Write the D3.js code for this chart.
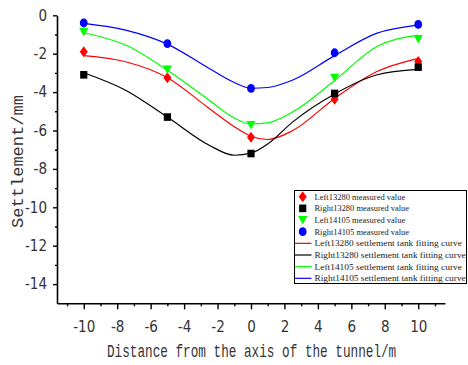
<!DOCTYPE html>
<html>
<head>
<meta http-equiv='Content-Type' content='text/html;charset=utf-8'/>
<title>Settlement</title>
<script src='https://cdn.jsdelivr.net/npm/d3@7/dist/d3.min.js'></script>
<style>
body { margin: 0; background: #fff; }
text { font-family: 'Liberation Sans Narrow', 'DejaVu Sans Condensed', sans-serif; }
</style>
</head>
<body>
<script>
'use strict'
// measured points
const xPoints = [-10, -5, 0, 5, 10]
const left13280 = [-1.9, -3.25, -6.35, -4.37, -2.4]
const right13280 = [-3.1, -5.3, -7.2, -4.07, -2.7]
const left14105 = [-0.87, -2.82, -5.72, -3.25, -1.24]
const right14105 = [-0.4, -1.48, -3.81, -1.95, -0.47]

// fitting curves
const xCurve = [-10, -7.5, -5, -2.5, -1, 0, 1, 2.5, 5, 7.5, 10]
const left13280Fit = [-2.1, -2.42, -3.25, -4.85, -5.8, -6.3, -6.47, -6.0, -4.33, -2.94, -2.24]
const right13280Fit = [-2.99, -3.9, -5.3, -6.77, -7.29, -7.18, -6.7, -5.55, -4.1, -3.11, -2.82]
const left14105Fit = [-0.91, -1.55, -2.86, -4.42, -5.35, -5.66, -5.6, -5.03, -3.4, -1.64, -1.03]
const right14105Fit = [-0.42, -0.77, -1.5, -2.77, -3.5, -3.8, -3.76, -3.37, -2.1, -0.94, -0.51]

const xTicks = [-10, -8, -6, -4, -2, 0, 2, 4, 6, 8, 10]
const yTicks = [0, -2, -4, -6, -8, -10, -12, -14]

const legendItems = [
	{name: 'Left13280 measured value', kind: 'diamond', color: '#ff0000'},
	{name: 'Right13280 measured value', kind: 'square', color: '#000000'},
	{name: 'Left14105 measured value', kind: 'triangle', color: '#00ff00'},
	{name: 'Right14105 measured value', kind: 'circle', color: '#0000ff'},
	{name: 'Left13280 settlement tank fitting curve', kind: 'line', color: '#ff0000'},
	{name: 'Right13280 settlement tank fitting curve', kind: 'line', color: '#000000'},
	{name: 'Left14105 settlement tank fitting curve', kind: 'line', color: '#00ff00'},
	{name: 'Right14105 settlement tank fitting curve', kind: 'line', color: '#0000ff'}
]

const width = 468
const height = 365

const svg = d3.select('body').append('svg')
	.attr('width', width)
	.attr('height', height)

const x = d3.scaleLinear().domain([-11.6, 11.6]).range([57, 445])
const y = d3.scaleLinear().domain([-15, 0]).range([303.3, 15.3])

// axes
const xAxis = svg.append('g')
	.attr('transform', 'translate(0,' + y(-15) + ')')
	.call(d3.axisBottom(x).tickValues(xTicks).tickSize(6).tickSizeOuter(0).tickFormat(d => d))
xAxis.select('.domain').attr('stroke-width', 1.6)
xAxis.selectAll('.tick line').attr('stroke-width', 1.4)
xAxis.selectAll('.tick text')
	.attr('y', 29).attr('dy', 0)
	.style('font-size', '15px').attr('fill', '#333')

svg.append('g')
	.attr('transform', 'translate(0,' + y(-15) + ')')
	.call(d3.axisBottom(x).tickValues(d3.range(-11, 12, 2)).tickSize(3).tickFormat(''))
	.call(g => g.select('.domain').remove())
	.selectAll('.tick line').attr('stroke-width', 1.4)

const yAxis = svg.append('g')
	.attr('transform', 'translate(' + x(-11.6) + ',0)')
	.call(d3.axisLeft(y).tickValues(yTicks).tickSize(4).tickSizeOuter(0).tickPadding(6).tickFormat(d => d))
yAxis.select('.domain').attr('stroke-width', 1.6)
yAxis.selectAll('.tick line').attr('stroke-width', 1.4)
yAxis.selectAll('.tick text').style('font-size', '15px').attr('fill', '#333')

svg.append('g')
	.attr('transform', 'translate(' + x(-11.6) + ',0)')
	.call(d3.axisLeft(y).tickValues(d3.range(-1, -15, -2)).tickSize(2).tickFormat(''))
	.call(g => g.select('.domain').remove())
	.selectAll('.tick line').attr('stroke-width', 1.4)

// axis titles (narrow mono font stretched upward to look condensed)
svg.append('text')
	.attr('transform', 'translate(107,357) scale(1,1.45)')
	.style('font-family', "'Liberation Mono', monospace")
	.style('font-size', '12.7px').attr('fill', '#333')
	.text('Distance from the axis of the tunnel/m')

svg.append('text')
	.attr('transform', 'translate(23,228) rotate(-90)')
	.attr('textLength', 133).attr('lengthAdjust', 'spacingAndGlyphs')
	.style('font-family', "'Liberation Mono', monospace")
	.style('font-size', '17px').attr('fill', '#333')
	.text('Settlement/mm')

// curves
const line = d3.line()
	.x(d => x(d[0]))
	.y(d => y(d[1]))
	.curve(d3.curveMonotoneX)

const fits = [
	[left13280Fit, '#ff0000'],
	[right13280Fit, '#000000'],
	[left14105Fit, '#00ff00'],
	[right14105Fit, '#0000ff']
]
fits.forEach(function(f) {
	svg.append('path')
		.datum(xCurve.map((v, i) => [v, f[0][i]]))
		.attr('d', line)
		.attr('fill', 'none')
		.attr('stroke', f[1])
		.attr('stroke-width', 1.2)
})

// markers
const symbols = {
	diamond: 'M0,-5.5L4,0L0,5.5L-4,0Z',
	square: 'M-3.6,-3.8H3.6V3.8H-3.6Z',
	triangle: 'M-4.6,-4L4.6,-4L0,4.5Z',
	circle: null
}

function marker(g, kind, color, cx, cy)
{
	if (kind == 'circle') {
		g.append('ellipse')
			.attr('cx', cx).attr('cy', cy)
			.attr('rx', 3.9).attr('ry', 4.4)
			.attr('fill', color)
	}
	else {
		g.append('path')
			.attr('d', symbols[kind])
			.attr('transform', 'translate(' + cx + ',' + cy + ')')
			.attr('fill', color)
	}
}

const series = [
	[left13280, 'diamond', '#ff0000'],
	[right13280, 'square', '#000000'],
	[left14105, 'triangle', '#00ff00'],
	[right14105, 'circle', '#0000ff']
]
series.forEach(function(s) {
	const g = svg.append('g')
	xPoints.forEach(function(v, i) {
		marker(g, s[1], s[2], x(v), y(s[0][i]))
	})
})

// legend
const legend = svg.append('g')
legend.append('rect')
	.attr('x', 294.5).attr('y', 190.5)
	.attr('width', 172).attr('height', 93)
	.attr('fill', '#fff')
	.attr('stroke', '#000')
	.attr('stroke-width', 1)

legendItems.forEach(function(d, i) {
	const cy = 196.7 + i * 11.66
	if (d.kind == 'line') {
		legend.append('line')
			.attr('x1', 295).attr('x2', 311.5)
			.attr('y1', cy).attr('y2', cy)
			.attr('stroke', d.color).attr('stroke-width', 1.2)
	}
	else {
		marker(legend, d.kind, d.color, 302.7, cy)
	}
	legend.append('text')
		.attr('x', 314.5).attr('y', cy + 3)
		.attr('textLength', d.name.length * 3.78)
		.attr('lengthAdjust', 'spacingAndGlyphs')
		.style('font-family', "'Liberation Serif', serif")
		.style('font-size', '8.5px')
		.attr('fill', '#222')
		.text(d.name)
})
</script>
</body>
</html>
